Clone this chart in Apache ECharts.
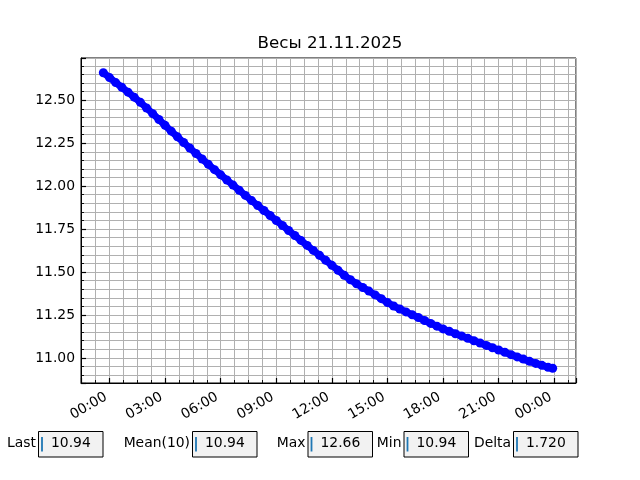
<!DOCTYPE html>
<html>
<head>
<meta charset="utf-8">
<script src="https://cdn.jsdelivr.net/npm/echarts@6/dist/echarts.min.js"></script>
<style>html,body{margin:0;padding:0;background:#fff}#main{width:640px;height:480px}</style>
</head>
<body>
<div id="main"></div>
<script>
const titleText = 'Весы 21.11.2025';
const times = [
"2025-11-20 23:40",
"2025-11-21 00:00","2025-11-21 00:20","2025-11-21 00:40","2025-11-21 01:00","2025-11-21 01:20","2025-11-21 01:40",
"2025-11-21 02:00","2025-11-21 02:20","2025-11-21 02:40","2025-11-21 03:00","2025-11-21 03:20","2025-11-21 03:40",
"2025-11-21 04:00","2025-11-21 04:20","2025-11-21 04:40","2025-11-21 05:00","2025-11-21 05:20","2025-11-21 05:40",
"2025-11-21 06:00","2025-11-21 06:20","2025-11-21 06:40","2025-11-21 07:00","2025-11-21 07:20","2025-11-21 07:40",
"2025-11-21 08:00","2025-11-21 08:20","2025-11-21 08:40","2025-11-21 09:00","2025-11-21 09:20","2025-11-21 09:40",
"2025-11-21 10:00","2025-11-21 10:20","2025-11-21 10:40","2025-11-21 11:00","2025-11-21 11:20","2025-11-21 11:40",
"2025-11-21 12:00","2025-11-21 12:20","2025-11-21 12:40","2025-11-21 13:00","2025-11-21 13:20","2025-11-21 13:40",
"2025-11-21 14:00","2025-11-21 14:20","2025-11-21 14:40","2025-11-21 15:00","2025-11-21 15:20","2025-11-21 15:40",
"2025-11-21 16:00","2025-11-21 16:20","2025-11-21 16:40","2025-11-21 17:00","2025-11-21 17:20","2025-11-21 17:40",
"2025-11-21 18:00","2025-11-21 18:20","2025-11-21 18:40","2025-11-21 19:00","2025-11-21 19:20","2025-11-21 19:40",
"2025-11-21 20:00","2025-11-21 20:20","2025-11-21 20:40","2025-11-21 21:00","2025-11-21 21:20","2025-11-21 21:40",
"2025-11-21 22:00","2025-11-21 22:20","2025-11-21 22:40","2025-11-21 23:00","2025-11-21 23:20","2025-11-21 23:40",
"2025-11-21 23:55"
];
const weights = [
12.660,
12.632,12.603,12.575,12.547,12.518,12.488,
12.455,12.422,12.388,12.354,12.320,12.287,
12.254,12.222,12.190,12.158,12.127,12.096,
12.066,12.036,12.006,11.976,11.946,11.916,
11.887,11.858,11.829,11.800,11.771,11.742,
11.713,11.684,11.655,11.626,11.597,11.568,
11.539,11.510,11.481,11.455,11.432,11.410,
11.389,11.367,11.345,11.322,11.302,11.285,
11.268,11.251,11.235,11.218,11.201,11.185,
11.169,11.155,11.141,11.128,11.114,11.100,
11.087,11.073,11.059,11.046,11.033,11.019,
11.006,10.993,10.980,10.968,10.957,10.946,
10.940
];
const statLabels = ['Last', 'Mean(10)', 'Max', 'Min', 'Delta'];
const statValues = ['10.94', '10.94', '12.66', '10.94', '1.720'];

function toUTC(s) {
  const [d, t] = s.split(' ');
  const [Y, M, D] = d.split('-').map(Number);
  const [h, m] = t.split(':').map(Number);
  return Date.UTC(Y, M - 1, D, h, m);
}
const H = 3600 * 1000;
const day0 = Date.UTC(2025, 10, 21, 0, 0);
const xMin = day0 - 1.538 * H;
const xMax = day0 + 25.175 * H;
const pad2 = n => (n < 10 ? '0' : '') + n;
const FONT = '"DejaVu Sans", "Liberation Sans", sans-serif';
const seriesData = times.map((t, i) => [toUTC(t), weights[i]]);

// bottom widgets
const boxLeft = [38, 192, 307.5, 403.5, 513];
const boxW = 64.5, boxTop = 431, boxH = 25.5;
const graphics = [];
statLabels.forEach((lab, i) => {
  const x0 = boxLeft[i];
  graphics.push({type: 'text', x: x0 - 2, y: boxTop + boxH / 2, z: 100,
    style: {text: lab, fill: '#000', font: '13.9px ' + FONT, align: 'right', verticalAlign: 'middle'}});
  graphics.push({type: 'rect', z: 100, shape: {x: x0 + 0.5, y: boxTop + 0.5, width: boxW, height: boxH},
    style: {fill: '#f2f2f2', stroke: '#000', lineWidth: 1}});
  graphics.push({type: 'line', z: 101, shape: {x1: x0 + 4, y1: boxTop + 6, x2: x0 + 4, y2: boxTop + boxH - 5},
    style: {stroke: '#1f77b4', lineWidth: 1.8}});
  graphics.push({type: 'text', x: x0 + 13, y: boxTop + boxH / 2, z: 101,
    style: {text: statValues[i], fill: '#000', font: '13.9px ' + FONT, align: 'left', verticalAlign: 'middle'}});
});

const chart = echarts.init(document.getElementById('main'), null, {renderer: 'canvas'});
chart.setOption({
  animation: false,
  backgroundColor: '#fff',
  title: {
    text: titleText, left: 325, top: 30, textAlign: 'center',
    textStyle: {fontFamily: FONT, fontSize: 16.7, fontWeight: 'normal', color: '#000'}
  },
  grid: {left: 81, right: 64, top: 58, bottom: 97, show: true, borderColor: '#000', borderWidth: 1, backgroundColor: 'transparent'},
  xAxis: {
    type: 'value', min: xMin, max: xMax, minInterval: 3 * H, maxInterval: 3 * H,
    axisLine: {show: true, lineStyle: {color: '#000', width: 1}},
    axisTick: {show: true, inside: true, length: 5, lineStyle: {color: '#000', width: 1.2}},
    minorTick: {show: true, splitNumber: 4, length: 3, lineStyle: {color: '#000', width: 0.9}},
    splitLine: {show: true, lineStyle: {color: '#b0b0b0', width: 1}},
    minorSplitLine: {show: true, lineStyle: {color: '#b0b0b0', width: 1}},
    axisLabel: {
      show: true, rotate: 30, margin: 11, showMinLabel: false, showMaxLabel: false,
      fontFamily: FONT, fontSize: 13.9, color: '#000', padding: [0, 4, 0, 0],
      formatter: v => { const d = new Date(v); return pad2(d.getUTCHours()) + ':' + pad2(d.getUTCMinutes()); }
    }
  },
  yAxis: {
    type: 'value', min: 10.854, max: 12.746, minInterval: 0.25, maxInterval: 0.25,
    axisLine: {show: true, lineStyle: {color: '#000', width: 1}},
    axisTick: {show: true, inside: true, length: 5, lineStyle: {color: '#000', width: 1.2}},
    minorTick: {show: true, splitNumber: 5, length: 3, lineStyle: {color: '#000', width: 0.9}},
    splitLine: {show: true, lineStyle: {color: '#b0b0b0', width: 1}},
    minorSplitLine: {show: true, lineStyle: {color: '#b0b0b0', width: 1}},
    axisLabel: {
      show: true, margin: 6, showMinLabel: false, showMaxLabel: false,
      fontFamily: FONT, fontSize: 13.9, color: '#000',
      formatter: v => v.toFixed(2)
    }
  },
  series: [{
    type: 'line', data: seriesData, showAllSymbol: true, symbol: 'circle', symbolSize: 9,
    itemStyle: {color: '#0000ff'},
    lineStyle: {color: '#0000ff', width: 7, cap: 'round', join: 'round'}, z: 10
  }],
  graphic: graphics
});
</script>
</body>
</html>
